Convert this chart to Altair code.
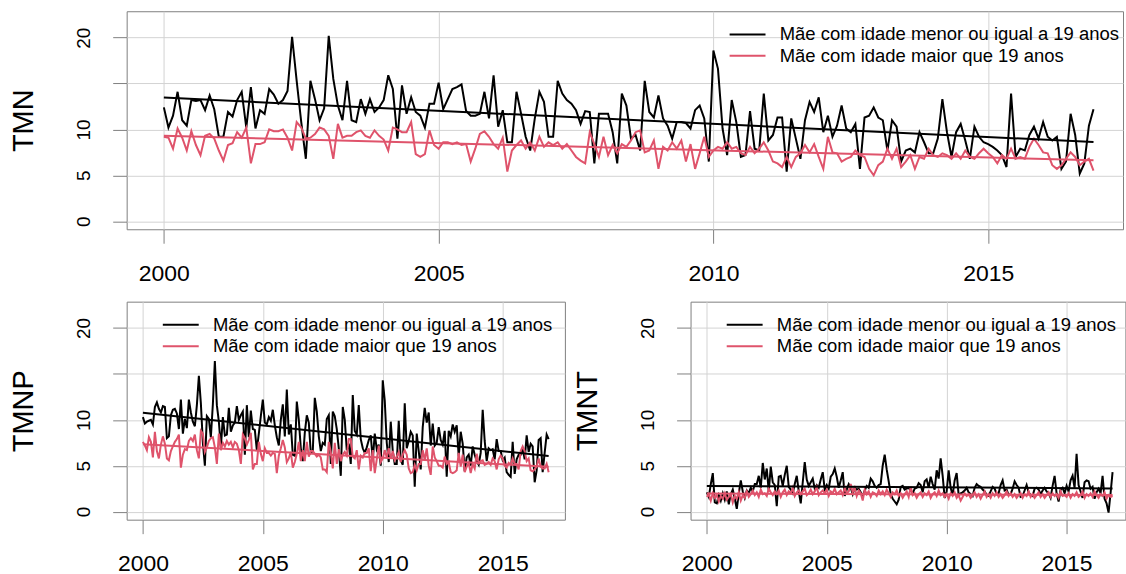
import altair as alt
import pandas as pd

START_YEAR = 2000
LAB_YOUNG = "Mãe com idade menor ou igual a 19 anos"
LAB_OLDER = "Mãe com idade maior que 19 anos"
COLORS = ["#000000", "#DF536B"]
X_TICKS = [2000, 2005, 2010, 2015]
Y_TICKS = [0, 5, 10, 15, 20]

# TMN, mothers <= 19 years (monthly, Jan 2000 - Dec 2016)
tmn_young = [
    12.4, 10.2, 11.5, 14.1, 11.0, 10.4, 13.2, 13.1, 13.2, 12.1, 13.7, 12.2,
    9.2, 9.2, 11.9, 11.4, 13.2, 14.1, 10.2, 14.6, 10.1, 12.1, 11.7, 14.4,
    13.8, 12.8, 13.2, 14.2, 20.1, 15.3, 10.8, 6.8, 15.3, 13.3, 11.0, 12.3,
    20.2, 15.5, 12.6, 11.0, 15.3, 11.0, 10.8, 13.3, 11.7, 13.3, 11.9, 12.4,
    13.2, 15.9, 14.4, 9.0, 14.8, 11.7, 13.5, 11.9, 11.5, 10.2, 12.8, 12.8,
    15.1, 12.2, 13.3, 14.4, 14.6, 14.9, 12.0, 11.5, 11.5, 11.7, 14.1, 11.2,
    15.9, 10.3, 12.1, 8.6, 8.6, 14.1, 11.7, 9.2, 7.7, 11.2, 14.1, 13.0,
    9.2, 9.2, 15.3, 13.9, 13.2, 12.8, 12.1, 10.6, 12.0, 11.9, 6.3, 11.7,
    11.7, 11.7, 9.7, 6.3, 13.9, 12.6, 9.0, 9.4, 7.7, 15.3, 11.9, 11.3,
    13.7, 11.2, 10.4, 9.0, 10.8, 10.8, 10.7, 10.1, 12.1, 12.6, 11.2, 6.5,
    18.6, 16.6, 10.1, 7.2, 13.2, 10.8, 7.0, 7.2, 12.0, 7.9, 7.7, 13.9,
    8.8, 9.4, 11.3, 11.3, 5.4, 11.2, 9.0, 6.8, 11.0, 13.0, 11.9, 13.5,
    9.7, 11.5, 9.2, 10.4, 12.6, 10.1, 9.7, 10.6, 5.7, 11.3, 11.5, 12.4,
    11.3, 11.0, 7.7, 11.0, 10.3, 6.5, 7.7, 7.9, 7.5, 9.7, 8.6, 7.4,
    7.4, 9.0, 13.3, 9.7, 7.0, 9.7, 10.6, 8.8, 6.8, 10.3, 9.2, 8.6,
    8.4, 8.1, 7.7, 7.2, 5.9, 13.9, 7.0, 7.9, 7.7, 9.4, 10.3, 9.0,
    10.8, 9.2, 8.8, 9.2, 5.7, 6.5, 11.7, 9.4, 5.2, 6.3, 10.4, 12.2,
]

# TMN, mothers > 19 years
tmn_older = [
    9.2, 9.1, 7.9, 10.1, 9.1, 7.7, 9.8, 8.3, 7.2, 9.3, 9.5, 9.0,
    7.7, 6.6, 8.3, 8.5, 9.7, 9.1, 10.2, 6.3, 8.4, 8.4, 8.6, 10.0,
    9.8, 9.8, 10.0, 9.1, 7.7, 10.8, 10.2, 9.0, 9.1, 9.5, 10.2, 10.0,
    9.3, 6.8, 10.6, 9.1, 9.3, 9.3, 9.7, 9.9, 9.3, 9.1, 9.9, 9.3,
    8.9, 7.7, 10.2, 10.0, 9.7, 9.7, 10.8, 7.3, 7.0, 7.3, 9.9, 8.3,
    7.9, 8.6, 8.6, 8.4, 8.6, 8.3, 8.4, 6.5, 7.9, 9.5, 9.8, 9.2,
    8.4, 7.9, 9.1, 5.4, 7.7, 8.3, 8.8, 7.9, 8.6, 7.7, 9.2, 8.1,
    8.6, 8.3, 8.6, 7.9, 8.4, 7.7, 7.0, 6.6, 6.3, 9.7, 8.4, 7.0,
    9.2, 7.2, 8.3, 7.4, 8.4, 8.1, 8.8, 9.7, 9.9, 7.5, 7.7, 8.8,
    5.7, 8.1, 7.7, 8.6, 7.9, 8.8, 6.5, 8.4, 5.7, 7.4, 9.2, 7.0,
    7.7, 8.1, 7.9, 8.6, 7.9, 8.1, 7.4, 7.2, 8.1, 7.4, 7.9, 8.6,
    7.7, 6.5, 6.3, 5.9, 7.0, 5.9, 7.0, 7.4, 8.3, 7.5, 8.4, 7.0,
    5.7, 9.2, 7.5, 7.4, 6.5, 6.8, 7.0, 7.7, 7.2, 7.0, 5.7, 5.0,
    6.1, 6.5, 7.9, 6.8, 7.9, 5.9, 6.5, 7.2, 5.7, 7.0, 6.8, 7.9,
    7.2, 7.0, 7.4, 7.2, 6.8, 7.4, 6.8, 7.7, 7.0, 6.8, 7.4, 7.9,
    7.4, 7.0, 6.3, 7.2, 6.8, 7.9, 6.8, 7.0, 6.8, 8.1, 9.0, 8.3,
    7.5, 7.4, 6.1, 5.7, 6.1, 6.8, 7.5, 7.0, 6.1, 6.5, 6.8, 5.5,
]

# TMNP, mothers <= 19 years
tmnp_young = [
    10.3, 9.6, 9.8, 9.9, 10.0, 9.5, 11.4, 11.9, 11.2, 10.8, 11.5, 11.4,
    8.0, 8.2, 10.5, 11.1, 11.2, 10.7, 9.0, 12.2, 8.5, 10.1, 9.1, 12.2,
    10.8, 9.8, 9.3, 11.6, 14.8, 11.8, 7.5, 5.0, 10.4, 10.1, 8.1, 11.7,
    16.4, 11.6, 9.8, 7.0, 10.3, 8.3, 8.4, 11.3, 8.7, 9.4, 9.7, 11.5,
    10.0, 10.5, 10.9, 6.2, 11.6, 8.1, 11.0, 9.0, 8.9, 6.7, 8.5, 10.4,
    12.2, 9.7, 9.5, 10.3, 9.9, 11.1, 9.4, 8.1, 7.2, 10.0, 11.7, 8.2,
    13.3, 8.4, 9.5, 6.2, 6.1, 12.0, 10.0, 6.9, 5.5, 8.6, 10.5, 9.7,
    6.4, 6.6, 12.4, 10.9, 8.2, 6.6, 7.5, 7.3, 10.1, 10.5, 5.2, 10.9,
    10.4, 9.0, 6.9, 3.9, 11.4, 10.0, 6.7, 7.4, 5.2, 12.7, 8.8, 8.4,
    11.6, 7.9, 6.9, 6.4, 7.0, 7.8, 8.3, 5.6, 8.5, 6.8, 7.3, 5.0,
    14.3, 12.1, 7.5, 5.4, 9.8, 6.6, 5.2, 5.2, 9.9, 5.6, 5.1, 11.8,
    6.9, 7.7, 8.7, 8.3, 2.7, 8.5, 6.6, 4.6, 9.2, 11.3, 9.7, 10.8,
    7.2, 9.6, 7.2, 7.5, 9.2, 7.8, 7.3, 8.8, 3.8, 8.8, 8.2, 9.5,
    8.7, 9.4, 6.0, 8.7, 7.4, 4.4, 5.9, 6.2, 5.0, 7.1, 6.2, 5.5,
    5.1, 6.4, 11.1, 7.7, 5.5, 6.9, 6.7, 6.8, 5.7, 7.9, 6.6, 6.6,
    5.6, 5.9, 4.3, 4.0, 3.8, 7.6, 4.1, 5.7, 6.2, 6.2, 6.9, 5.7,
    8.3, 6.5, 7.4, 7.1, 3.2, 4.5, 7.8, 8.0, 4.3, 6.4, 8.4, 7.9,
]

# TMNP, mothers > 19 years
tmnp_older = [
    7.6, 7.2, 6.7, 8.1, 7.6, 5.9, 8.7, 6.6, 5.8, 7.3, 8.2, 7.4,
    5.8, 5.6, 6.6, 7.1, 7.6, 7.9, 8.4, 4.8, 6.2, 6.8, 6.7, 7.7,
    8.0, 7.7, 8.4, 6.7, 5.8, 8.8, 8.5, 6.5, 7.0, 7.7, 8.0, 8.1,
    7.0, 5.2, 8.5, 6.7, 7.5, 7.1, 7.7, 7.3, 7.6, 7.0, 7.6, 7.4,
    6.7, 5.2, 8.4, 8.0, 7.3, 7.8, 8.6, 4.6, 5.2, 5.2, 7.6, 6.3,
    5.5, 6.9, 6.4, 6.4, 6.1, 6.4, 6.3, 4.2, 6.1, 6.9, 7.8, 7.0,
    5.4, 5.8, 6.5, 4.8, 5.4, 6.3, 7.6, 5.5, 6.7, 5.5, 7.6, 6.0,
    6.6, 6.6, 6.3, 6.0, 6.2, 5.9, 4.6, 4.6, 4.3, 7.6, 6.5, 4.7,
    7.5, 5.2, 6.8, 5.5, 6.2, 6.5, 6.1, 7.9, 7.9, 6.0, 5.8, 6.7,
    4.6, 6.1, 5.9, 6.4, 6.4, 6.9, 4.4, 6.7, 4.2, 5.7, 7.2, 5.4,
    5.8, 6.7, 5.9, 6.9, 5.8, 6.6, 5.6, 6.0, 6.5, 5.4, 6.2, 6.7,
    6.2, 4.7, 4.2, 4.3, 5.1, 4.5, 5.2, 5.2, 6.7, 5.6, 6.9, 5.0,
    4.0, 7.1, 5.9, 5.5, 5.0, 5.0, 4.8, 6.0, 5.2, 5.4, 4.3, 4.2,
    4.3, 4.5, 6.4, 4.9, 6.2, 4.3, 4.9, 5.3, 4.2, 5.2, 4.7, 6.3,
    5.3, 5.5, 5.6, 5.1, 5.2, 5.4, 5.1, 5.8, 5.5, 4.6, 5.7, 6.1,
    5.8, 5.0, 4.8, 5.3, 5.1, 5.8, 5.2, 5.2, 4.6, 6.6, 7.1, 6.6,
    5.5, 5.8, 4.5, 4.4, 4.6, 4.9, 5.8, 4.9, 4.7, 4.7, 5.2, 4.3,
]

# TMNT, mothers <= 19 years
tmnt_young = [
    2.1, 1.6, 3.0, 4.2, 1.0, 0.9, 1.8, 1.2, 2.0, 1.3, 2.2, 0.8,
    1.9, 2.4, 1.4, 0.3, 2.0, 3.4, 2.2, 1.5, 2.3, 2.0, 2.6, 2.2,
    3.0, 3.0, 3.9, 2.6, 5.3, 3.5, 4.7, 2.2, 4.9, 3.2, 2.9, 0.6,
    3.8, 3.9, 2.8, 4.0, 5.0, 2.7, 2.4, 2.0, 3.0, 3.9, 2.2, 0.9,
    3.2, 5.4, 3.5, 2.8, 3.2, 3.6, 2.5, 2.9, 2.6, 3.5, 4.3, 2.4,
    2.9, 2.5, 3.8, 4.1, 4.7, 3.8, 2.6, 3.4, 4.3, 1.7, 2.4, 3.0,
    2.6, 1.9, 2.6, 2.4, 2.5, 2.1, 1.7, 2.3, 2.8, 2.6, 3.6, 3.3,
    2.8, 2.6, 2.9, 3.0, 5.0, 6.2, 4.6, 3.3, 1.9, 1.4, 1.1, 0.8,
    1.3, 2.7, 2.8, 2.4, 2.5, 2.6, 2.3, 2.0, 2.5, 2.6, 3.1, 2.9,
    2.1, 3.3, 3.5, 2.6, 3.8, 3.0, 2.4, 4.5, 3.6, 5.8, 3.9, 1.5,
    2.2, 4.5, 2.6, 1.8, 3.4, 4.2, 1.8, 2.0, 2.1, 2.3, 2.6, 2.1,
    1.9, 1.7, 2.6, 3.0, 2.8, 2.7, 2.4, 2.2, 1.8, 1.7, 2.2, 2.7,
    2.5, 1.9, 2.0, 2.9, 3.4, 2.3, 2.4, 1.8, 1.9, 2.5, 3.3, 2.9,
    2.6, 1.6, 1.7, 2.3, 2.9, 2.1, 1.8, 1.7, 2.5, 2.6, 2.4, 1.9,
    2.3, 2.6, 2.2, 2.0, 1.5, 2.8, 3.9, 2.0, 1.1, 2.4, 2.6, 2.0,
    2.8, 2.2, 3.4, 3.9, 2.6, 6.3, 2.9, 2.2, 1.5, 3.2, 3.4, 3.3,
    2.5, 2.7, 1.4, 2.1, 2.5, 2.0, 3.9, 1.4, 0.9, -0.1, 2.0, 4.3,
]

# TMNT, mothers > 19 years
tmnt_older = [
    1.6, 1.9, 1.2, 2.0, 1.5, 1.8, 1.1, 1.7, 1.4, 2.0, 1.3, 1.6,
    1.9, 1.0, 1.7, 1.4, 2.1, 1.2, 1.8, 1.5, 2.2, 1.6, 1.9, 2.3,
    1.8, 2.1, 1.6, 2.4, 1.9, 2.0, 1.7, 2.5, 2.1, 1.8, 2.2, 1.9,
    2.3, 1.6, 2.1, 2.4, 1.8, 2.2, 2.0, 2.6, 1.7, 2.1, 2.3, 1.9,
    2.2, 2.5, 1.8, 2.0, 2.4, 1.9, 2.2, 2.7, 1.8, 2.1, 2.3, 2.0,
    2.4, 1.7, 2.2, 2.0, 2.5, 1.9, 2.1, 2.3, 1.8, 2.6, 2.0, 2.2,
    3.0, 2.1, 2.6, 1.7, 2.3, 2.0, 1.2, 2.4, 1.9, 2.2, 1.6, 2.1,
    2.0, 1.7, 2.3, 1.9, 2.2, 1.8, 2.4, 2.0, 1.6, 2.1, 1.9, 2.3,
    1.7, 2.0, 1.5, 1.9, 2.2, 1.6, 2.7, 1.8, 2.0, 1.5, 1.9, 2.1,
    1.6, 2.0, 1.8, 2.2, 1.5, 1.9, 2.1, 1.7, 2.3, 1.8, 2.0, 1.6,
    1.9, 1.4, 2.0, 1.7, 2.1, 1.5, 1.8, 1.2, 1.6, 2.0, 1.7, 1.9,
    1.5, 1.8, 2.1, 1.6, 1.9, 1.4, 1.8, 2.2, 1.6, 1.9, 1.5, 2.0,
    1.7, 2.1, 1.6, 1.9, 1.5, 1.8, 2.2, 1.7, 2.0, 1.6, 1.9, 1.5,
    1.8, 2.0, 1.5, 1.9, 1.7, 2.2, 1.6, 1.9, 1.5, 1.8, 2.1, 1.6,
    1.9, 1.5, 1.8, 2.1, 1.6, 2.0, 1.7, 1.9, 1.5, 2.2, 1.7, 1.8,
    1.6, 2.0, 1.5, 1.9, 1.7, 2.1, 1.6, 1.8, 2.2, 1.5, 1.9, 1.7,
    2.0, 1.6, 2.2, 1.8, 1.5, 1.9, 1.7, 2.1, 1.4, 1.8, 1.6, 1.7,
]

FONT = "Liberation Sans"
X_MIN = 1999.323
Y_DOMAIN = [-0.88, 22.88]
PLOT_H = 218.6
BOX = "#808080"
GRID = "#d3d3d3"


def series_frame(values, label):
    return pd.DataFrame({
        "t": [START_YEAR + i / 12 for i in range(len(values))],
        "value": values,
        "series": label,
    })


def panel(young, older, title, width, x_max, legend_x):
    x = alt.X(
        "t:Q",
        scale=alt.Scale(domain=[X_MIN, x_max], nice=False, zero=False),
        axis=alt.Axis(
            values=X_TICKS, format="d", title=None,
            labelFont=FONT, labelFontSize=23, labelColor="black",
            labelPadding=19, labelBaseline="top", labelAngle=0,
            labelFlush=False, labelOverlap=False,
            tickSize=14, tickColor=BOX, tickWidth=1,
            grid=True, gridColor=GRID, gridWidth=1, domain=False,
        ),
    )
    y = alt.Y(
        "value:Q",
        scale=alt.Scale(domain=Y_DOMAIN, nice=False, zero=False),
        axis=alt.Axis(
            values=Y_TICKS, title=title,
            labelExpr="datum.value == 15 ? '' : datum.label",
            labelFont=FONT, labelFontSize=19, labelColor="black",
            labelAngle=270, labelAlign="center", labelBaseline="alphabetic",
            labelPadding=23, labelFlush=False, labelOverlap=False,
            tickSize=14, tickColor=BOX, tickWidth=1,
            grid=True, gridColor=GRID, gridWidth=1, domain=False,
            titleFont=FONT, titleFontSize=29, titleFontWeight="normal",
            titleColor="black", titleAngle=270, titleAlign="center",
            titleBaseline="alphabetic", titleX=-94, titleY=PLOT_H / 2,
        ),
    )
    color = alt.Color(
        "series:N",
        scale=alt.Scale(domain=[LAB_YOUNG, LAB_OLDER], range=COLORS),
        legend=alt.Legend(
            orient="none", legendX=legend_x, legendY=14, title=None,
            symbolType="M-3,0L3,0", symbolSize=144, symbolStrokeWidth=2,
            symbolOffset=0, labelFont=FONT, labelFontSize=18.5,
            labelColor="black", labelOffset=23, labelLimit=1000,
            rowPadding=2.5, padding=0,
        ),
    )
    layers = []
    for vals, lab in [(young, LAB_YOUNG), (older, LAB_OLDER)]:
        layers.append(
            alt.Chart(series_frame(vals, lab))
            .mark_line(strokeWidth=2, clip=True)
            .encode(x=x, y=y, color=color)
        )
    for vals, lab in [(young, LAB_YOUNG), (older, LAB_OLDER)]:
        layers.append(
            alt.Chart(series_frame(vals, lab))
            .transform_regression("t", "value", groupby=["series"])
            .mark_line(strokeWidth=2, clip=True)
            .encode(x=x, y=y, color=color)
        )
    return alt.layer(*layers).properties(width=width, height=PLOT_H)


TOP_W = 999.0
BR_W = 436.0
top = panel(tmn_young, tmn_older, "TMN", TOP_W, X_MIN + TOP_W / 55.1, 613.3)
bottom_left = panel(tmnp_young, tmnp_older, "TMNP", 439.4, 2017.594, 45)
bottom_right = panel(tmnt_young, tmnt_older, "TMNT", BR_W, X_MIN + BR_W / 24.05, 45)

bottom = alt.hconcat(bottom_left, bottom_right, spacing=7.4).resolve_legend(color="independent")

chart = (
    alt.vconcat(top, bottom, spacing=14.2)
    .resolve_legend(color="independent")
    .properties(padding={"left": 9, "top": 9.5, "right": 0, "bottom": 0})
    .configure(font=FONT)
    .configure_view(stroke=BOX, strokeWidth=1)
)

chart.save(
    "out.html",
    embed_options={
        "renderer": "svg",
        "actions": False,
        "defaultStyle": "html,body{margin:0;padding:0;overflow:hidden}svg{display:block}",
    },
)
